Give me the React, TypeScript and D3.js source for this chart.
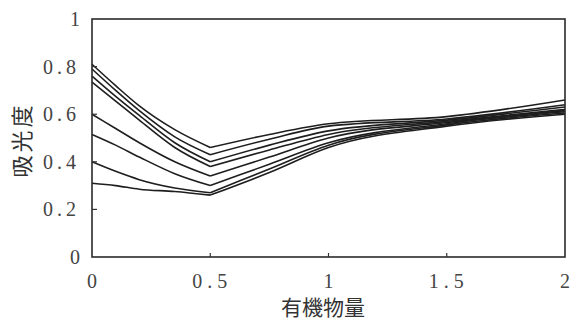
import React from 'react';
import * as d3 from 'd3';

const xValues = [0, 0.1, 0.2, 0.35, 0.5, 0.75, 1, 1.5, 2];
const series1 = [0.81, 0.72, 0.635, 0.535, 0.46, 0.515, 0.56, 0.59, 0.66];
const series2 = [0.79, 0.7, 0.615, 0.505, 0.43, 0.495, 0.55, 0.58, 0.64];
const series3 = [0.76, 0.675, 0.595, 0.48, 0.4, 0.47, 0.53, 0.575, 0.63];
const series4 = [0.735, 0.655, 0.575, 0.46, 0.38, 0.45, 0.515, 0.57, 0.62];
const series5 = [0.6, 0.54, 0.48, 0.4, 0.34, 0.42, 0.5, 0.565, 0.615];
const series6 = [0.515, 0.47, 0.42, 0.35, 0.3, 0.39, 0.48, 0.56, 0.61];
const series7 = [0.4, 0.36, 0.325, 0.29, 0.27, 0.37, 0.47, 0.555, 0.605];
const series8 = [0.31, 0.3, 0.285, 0.275, 0.26, 0.355, 0.46, 0.55, 0.6];
const allSeries = [series1, series2, series3, series4, series5, series6, series7, series8];
const kinkIndex = 4;

const xTicks = [0, 0.5, 1, 1.5, 2];
const xTickLabels = ['0', '0.5', '1', '1.5', '2'];
const yTicks = [0, 0.2, 0.4, 0.6, 0.8, 1];
const yTickLabels = ['0', '0.2', '0.4', '0.6', '0.8', '1'];
const xTitle = '有機物量';
const yTitle = '吸光度';

export default function App() {
  const W = 573, H = 322;
  const left = 92, right = 565, top = 19, bottom = 257;
  const x = d3.scaleLinear().domain([0, 2]).range([left, right]);
  const y = d3.scaleLinear().domain([0, 1]).range([bottom, top]);
  const line = d3.line<[number, number]>()
    .x((d) => x(d[0]))
    .y((d) => y(d[1]))
    .curve(d3.curveMonotoneX);
  const pathFor = (s: number[]) => {
    const pts: [number, number][] = s.map((v, i) => [xValues[i], v]);
    return (line(pts.slice(0, kinkIndex + 1)) || '') + (line(pts.slice(kinkIndex)) || '');
  };
  const numFont = '"Liberation Serif", "DejaVu Serif", serif';
  const cjkFont = '"Noto Sans CJK JP", "Noto Sans CJK SC", sans-serif';
  return (
    <svg width={W} height={H} style={{ position: 'absolute', left: 0, top: 0, background: '#fff' }}>
      <rect x={0} y={0} width={W} height={H} fill="#fff" />
      {allSeries.map((s, i) => (
        <path key={i} d={pathFor(s)} fill="none" stroke="#1e1e1e" strokeWidth={1.6} strokeLinejoin="round" />
      ))}
      <rect x={left} y={top} width={right - left} height={bottom - top} fill="none" stroke="#2a2a2a" strokeWidth={1.6} />
      {xTicks.slice(1, -1).map((t) => (
        <line key={t} x1={x(t)} x2={x(t)} y1={bottom} y2={bottom - 4} stroke="#333" strokeWidth={1.2} />
      ))}
      {yTicks.slice(1, -1).map((t) => (
        <line key={t} x1={left} x2={left + 5} y1={y(t)} y2={y(t)} stroke="#333" strokeWidth={1.2} />
      ))}
      {xTicks.map((t, i) => (
        <text key={t} x={x(t) + (xTickLabels[i].length > 1 ? 2 : 0)} y={288} textAnchor="middle"
          fontFamily={numFont} fontSize={20} fill="#444" letterSpacing={xTickLabels[i].length > 1 ? 5 : 0}>
          {xTickLabels[i]}
        </text>
      ))}
      {yTicks.map((t, i) => (
        <text key={t} x={80} y={y(t) + 7} textAnchor="end" fontFamily={numFont} fontSize={20} fill="#444"
          letterSpacing={yTickLabels[i].length > 1 ? 4 : 0}>
          {yTickLabels[i]}
        </text>
      ))}
      <text x={323} y={315} textAnchor="middle" fontFamily={cjkFont} fontSize={21} fill="#333">{xTitle}</text>
      <text transform={`translate(30,140) rotate(-90)`} textAnchor="middle" fontFamily={cjkFont} fontSize={22}
        fill="#333" letterSpacing={3}>{yTitle}</text>
    </svg>
  );
}
